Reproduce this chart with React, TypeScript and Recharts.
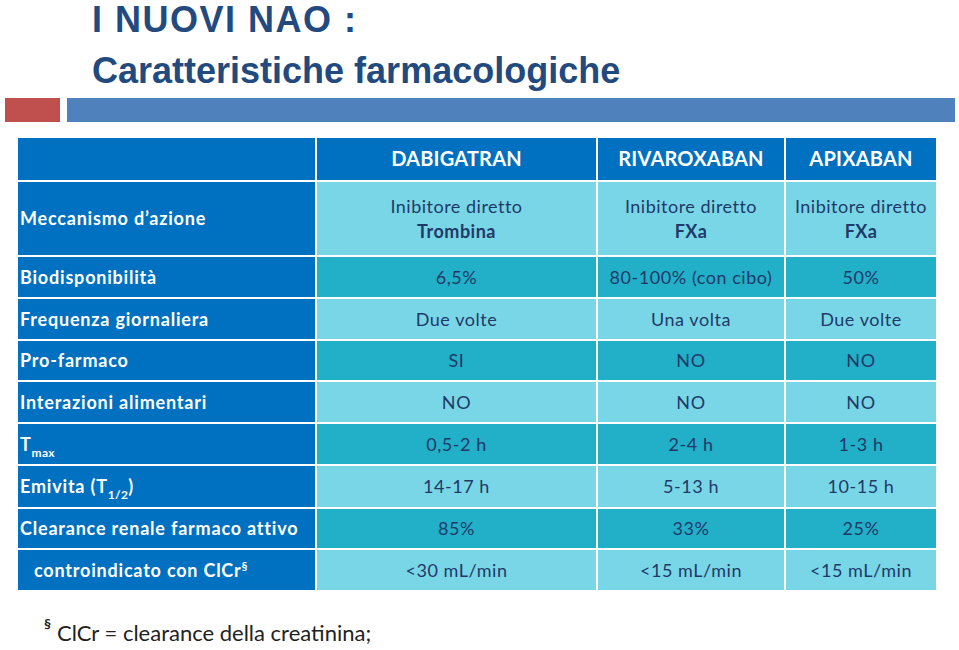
import React from 'react';
import { ComposedChart, XAxis, YAxis, ReferenceArea } from 'recharts';

// table content
const drugs = ['DABIGATRAN', 'RIVAROXABAN', 'APIXABAN'];
const rowLabels = [
  'Meccanismo d’azione',
  'Biodisponibilità',
  'Frequenza giornaliera',
  'Pro-farmaco',
  'Interazioni alimentari',
  'Tmax',
  'Emivita (T1/2)',
  'Clearance renale farmaco attivo',
  'controindicato con ClCr§',
];
const dabigatran = ['Inibitore diretto|Trombina', '6,5%', 'Due volte', 'SI', 'NO', '0,5-2 h', '14-17 h', '85%', '<30 mL/min'];
const rivaroxaban = ['Inibitore diretto|FXa', '80-100% (con cibo)', 'Una volta', 'NO', 'NO', '2-4 h', '5-13 h', '33%', '<15 mL/min'];
const apixaban = ['Inibitore diretto|FXa', '50%', 'Due volte', 'NO', 'NO', '1-3 h', '10-15 h', '25%', '<15 mL/min'];

// layout (table units = px)
const colEdges = [0, 299, 580, 768, 920];
const rowEdges = [0, 44, 119, 161, 203, 244, 286, 328, 371, 412, 454];

const DARK = '#0070C0';
const LIGHT = '#79D6E7';
const TEAL = '#22AFC8';
const NAVY = '#1F3A68';
const FONT = 'Lato, sans-serif';

const renderLabel = (label: string) => {
  if (label === 'Tmax') {
    return (
      <>
        <tspan>T</tspan>
        <tspan fontSize={12} dy={6} letterSpacing={0.3}>max</tspan>
      </>
    );
  }
  if (label === 'Emivita (T1/2)') {
    return (
      <>
        <tspan>Emivita (T</tspan>
        <tspan fontSize={12} dy={6} letterSpacing={0.3}>1/2</tspan>
        <tspan dy={-6}>)</tspan>
      </>
    );
  }
  if (label.endsWith('§')) {
    return (
      <>
        <tspan>{label.slice(0, -1)}</tspan>
        <tspan fontSize={12} dy={-7}>§</tspan>
      </>
    );
  }
  return label;
};

const CellShape = (props: any) => {
  const { x, y, width, height, cell } = props;
  const cy = y + height / 2;
  let content: any = null;
  if (cell.kind === 'head') {
    content = (
      <text x={x + width / 2} y={cy + 7} textAnchor="middle" fill="#fff" fontWeight={700} fontSize={20} letterSpacing={0.2} fontFamily={FONT}>
        {cell.text}
      </text>
    );
  } else if (cell.kind === 'label') {
    content = (
      <text x={x + (cell.indent ? 17 : 3)} y={cy + 6.5} fill="#fff" fontWeight={700} fontSize={18} letterSpacing={0.8} fontFamily={FONT}>
        {renderLabel(cell.text)}
      </text>
    );
  } else if (cell.kind === 'value') {
    const parts = cell.text.split('|');
    if (parts.length > 1) {
      content = (
        <text textAnchor="middle" fill={NAVY} fontSize={18} letterSpacing={0.5} fontFamily={FONT}>
          <tspan x={x + width / 2} y={cy - 6}>{parts[0]}</tspan>
          <tspan x={x + width / 2} y={cy + 19} fontWeight={700}>{parts[1]}</tspan>
        </text>
      );
    } else {
      content = (
        <text x={x + width / 2} y={cy + 6.5} textAnchor="middle" fill={NAVY} fontSize={18} letterSpacing={0.55} fontFamily={FONT}>
          {cell.text}
        </text>
      );
    }
  }
  return (
    <g>
      <rect x={x} y={y} width={width} height={height} fill={cell.fill} stroke="#fff" strokeWidth={2} />
      {content}
    </g>
  );
};

const buildCells = () => {
  const cells: any[] = [];
  const series = [dabigatran, rivaroxaban, apixaban];
  // header row
  cells.push({ r: 0, c: 0, kind: 'head', text: '', fill: DARK });
  drugs.forEach((d, i) => cells.push({ r: 0, c: i + 1, kind: 'head', text: d, fill: DARK }));
  rowLabels.forEach((lab, ri) => {
    const r = ri + 1;
    const fill = ri % 2 === 0 ? LIGHT : TEAL;
    cells.push({ r, c: 0, kind: 'label', text: lab, fill: DARK, indent: lab.startsWith('controindicato') });
    series.forEach((s, ci) => cells.push({ r, c: ci + 1, kind: 'value', text: s[ri], fill }));
  });
  return cells;
};

const App = () => {
  const cells = buildCells();
  return (
    <div style={{ position: 'absolute', left: 0, top: 0, width: 959, height: 650, background: '#fff' }}>
      <svg width={959} height={140} style={{ position: 'absolute', left: 0, top: 0 }}>
        <text x={92} y={32} fill="#234A7F" fontFamily="'Liberation Sans Narrow', sans-serif" fontWeight={700} fontSize={36} letterSpacing={1.5}>
          I NUOVI NAO :
        </text>
        <text x={92} y={83} fill="#234A7F" fontFamily="'Liberation Sans Narrow', sans-serif" fontWeight={700} fontSize={36}>
          Caratteristiche farmacologiche
        </text>
        <rect x={5} y={98} width={55} height={24} fill="#C0504D" />
        <rect x={67} y={98} width={888} height={24} fill="#4F81BD" />
      </svg>
      <div style={{ position: 'absolute', left: 17, top: 137 }}>
        <ComposedChart width={920} height={454} margin={{ top: 0, right: 0, bottom: 0, left: 0 }}>
          <XAxis type="number" dataKey="x" domain={[0, 920]} allowDataOverflow hide />
          <YAxis type="number" dataKey="y" domain={[0, 454]} allowDataOverflow reversed hide />
          {cells.map((cell, i) => (
            <ReferenceArea
              key={i}
              x1={colEdges[cell.c]}
              x2={colEdges[cell.c + 1]}
              y1={rowEdges[cell.r]}
              y2={rowEdges[cell.r + 1]}
              fillOpacity={1}
              ifOverflow="visible"
              shape={(p: any) => <CellShape {...p} cell={cell} />}
            />
          ))}
        </ComposedChart>
      </div>
      <svg width={959} height={60} style={{ position: 'absolute', left: 0, top: 600 }}>
        <text y={41} fill="#222" fontFamily={FONT} fontSize={22}>
          <tspan x={44} fontSize={14} fontWeight={700} dy={-12}>§</tspan>
          <tspan x={57} dy={12}>ClCr = clearance della creatinina;</tspan>
        </text>
      </svg>
    </div>
  );
};

export default App;
